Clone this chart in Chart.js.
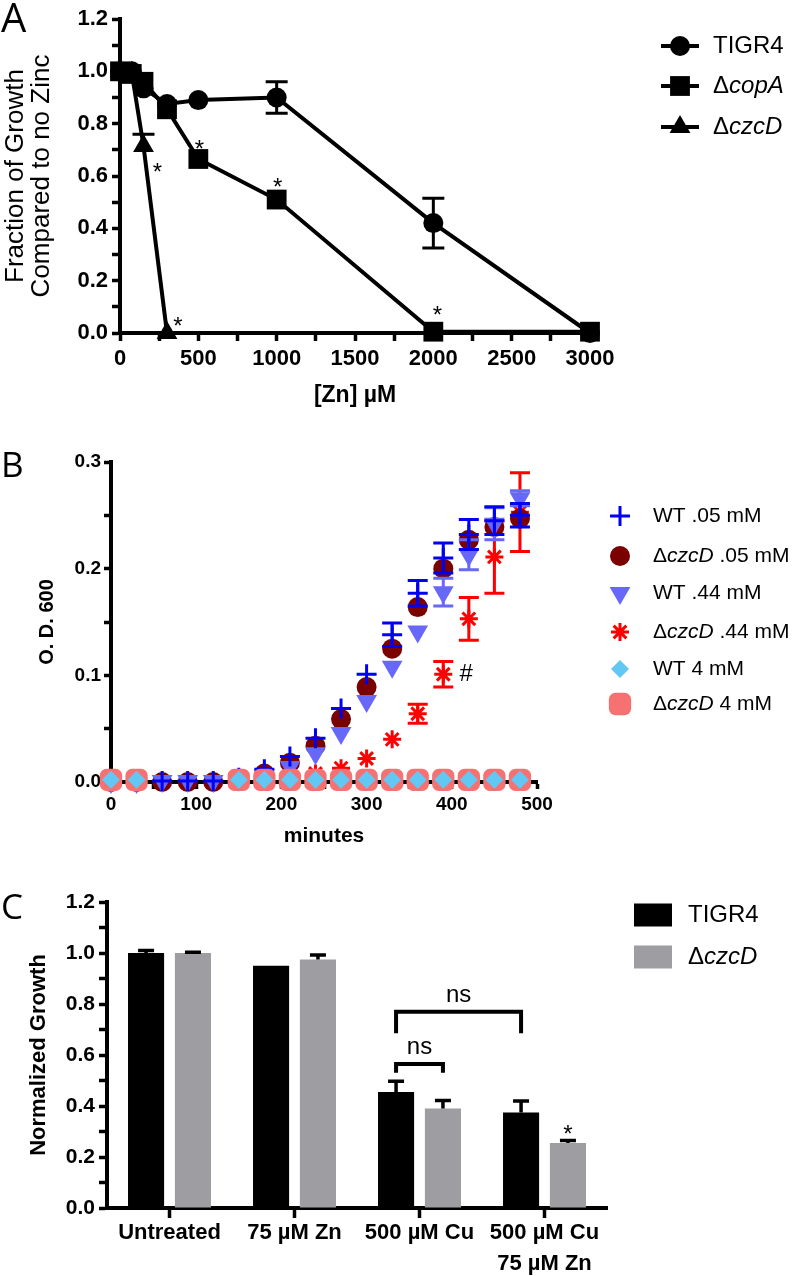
<!DOCTYPE html>
<html>
<head>
<meta charset="utf-8">
<title>Zinc / copper sensitivity</title>
<script src="https://cdn.jsdelivr.net/npm/chart.js@4.4.1/dist/chart.umd.min.js"></script>
<style>
  html, body { margin: 0; padding: 0; background: #fff; }
  body { position: relative; width: 800px; height: 1276px; overflow: hidden; }
  canvas { position: absolute; left: 0; }
</style>
</head>
<body>
<canvas id="panelA" width="800" height="410" style="top:0px"></canvas>
<canvas id="panelB" width="800" height="430" style="top:420px"></canvas>
<canvas id="panelC" width="800" height="426" style="top:850px"></canvas>
<script>
// ─── Panel A: fraction of growth vs [Zn] ───────────────────────────────
const zincTigr4   = [0, 75, 150, 300, 500, 1000, 2000, 3000];
const growthTigr4 = [1.0, 1.0, 0.935, 0.875, 0.89, 0.90, 0.42, 0.0];
const errTigr4    = [0, 0, 0, 0, 0, 0.06, 0.095, 0];
const zincCopA    = [0, 75, 150, 300, 500, 1000, 2000, 3000];
const growthCopA  = [1.0, 0.99, 0.96, 0.855, 0.665, 0.51, 0.005, 0.005];
const zincCzcD    = [0, 75, 150, 300];
const growthCzcD  = [1.0, 0.995, 0.715, 0.0];
const errCzcD     = [0, 0, 0.045, 0];
// asterisks: [dataset, point index, dx px, dy px]
const starsA = [[2, 2, 14, 20], [2, 3, 11, -13], [1, 4, 1, -16], [1, 5, 1, -18], [1, 6, 4, -23]];

// ─── Panel B: growth curves (O.D. 600) ─────────────────────────────────
const minutes   = [0, 30, 60, 90, 120, 150, 180, 210, 240, 270, 300, 330, 360, 390, 420, 450, 480];
const odWT005   = [0.001, 0.001, 0.001, 0.001, 0.001, 0.004, 0.012, 0.024, 0.041, 0.069, 0.101, 0.138, 0.177, 0.21, 0.232, 0.245, 0.25];
const errWT005  = [0, 0, 0, 0, 0, 0, 0, 0, 0, 0, 0, 0.011, 0.012, 0.014, 0.014, 0.013, 0.011];
const odCz005   = [0, 0, 0, 0, 0, 0.003, 0.008, 0.018, 0.034, 0.059, 0.089, 0.125, 0.164, 0.2, 0.227, 0.239, 0.247];
const odWT044   = [0, 0, 0.001, 0.001, 0.001, 0.002, 0.006, 0.014, 0.027, 0.046, 0.076, 0.108, 0.141, 0.178, 0.213, 0.242, 0.266];
const errWT044  = [0, 0, 0, 0, 0, 0, 0, 0, 0, 0, 0, 0, 0, 0.013, 0.014, 0.015, 0.007];
const odCz044   = [0, 0, 0, 0, 0, 0, 0, 0.002, 0.008, 0.013, 0.022, 0.04, 0.064, 0.101, 0.153, 0.211, 0.253];
const errCz044  = [0, 0, 0, 0, 0, 0, 0, 0, 0, 0, 0, 0, 0.009, 0.012, 0.02, 0.034, 0.037];
const odWT4     = [0.002, 0.002, null, null, null, 0.002, 0.002, 0.002, 0.002, 0.002, 0.002, 0.002, 0.002, 0.002, 0.002, 0.002, 0.002];
const odCz4     = [0.002, 0.002, null, null, null, 0.002, 0.002, 0.002, 0.002, 0.002, 0.002, 0.002, 0.002, 0.002, 0.002, 0.002, 0.002];
const hashB     = [3, 13, 23, 0];   // dataset, point, dx, dy

// ─── Panel C: normalized growth bars ───────────────────────────────────
const treatments   = ['Untreated', '75 µM Zn', '500 µM Cu', ['500 µM Cu', '75 µM Zn']];
const growthTigr4C = [1.0, 0.95, 0.455, 0.375];
const errTigr4C    = [0.01, 0, 0.042, 0.045];
const growthCzcDC  = [1.0, 0.975, 0.39, 0.255];
const errCzcDC     = [0.003, 0.017, 0.032, 0.01];
// brackets: [dataset a, index a, dataset b, index b, top value, leg drop]
const bracketsC = [[0, 2, 0, 3, 0.77, 0.085], [0, 2, 1, 2, 0.565, 0.035]];

const FONT = '"Liberation Sans", Arial, Helvetica, sans-serif';
Chart.defaults.font.family = FONT;
Chart.defaults.color = '#000';
const H = Chart.helpers;

function drawParts(ctx, parts, x, y, size) {
  let cx = x;
  for (const [t, italic] of parts) {
    ctx.font = `${italic ? 'italic ' : ''}${size}px ${FONT}`;
    ctx.fillText(t, cx, y);
    cx += ctx.measureText(t).width;
  }
}

function drawLetter(ctx, ch, x, y, size) {
  ctx.save();
  ctx.fillStyle = '#000';
  ctx.textBaseline = 'alphabetic';
  ctx.font = `${size}px "Open Sans", "Noto Sans", sans-serif`;
  ctx.fillText(ch, x, y);
  ctx.restore();
}

function drawStar(ctx, x, cy, size) {
  ctx.font = `${size}px ${FONT}`;
  ctx.textAlign = 'center';
  ctx.textBaseline = 'alphabetic';
  ctx.fillText('*', x, cy + 0.58 * size);
}

function yOf(raw) { return raw == null ? null : (typeof raw === 'object' ? raw.y : raw); }

function drawErrors(chart, index) {
  const ds = chart.data.datasets[index];
  if (!ds.errors) return;
  const meta = chart.getDatasetMeta(index);
  const ys = chart.scales[meta.yAxisID];
  const ctx = chart.ctx;
  ctx.save();
  ctx.strokeStyle = ds.errorColor || '#000';
  ctx.lineWidth = ds.errorWidth || 3;
  meta.data.forEach((el, i) => {
    const e = ds.errors[i];
    const v = yOf(ds.data[i]);
    if (!e || v == null) return;
    const c = ds.capHalf || 10;
    const yTop = ys.getPixelForValue(v + e);
    const yBot = ds.errorsUpOnly ? ys.getPixelForValue(v) : ys.getPixelForValue(v - e);
    ctx.beginPath();
    ctx.moveTo(el.x, yTop); ctx.lineTo(el.x, yBot);
    ctx.moveTo(el.x - c, yTop); ctx.lineTo(el.x + c, yTop);
    if (!ds.errorsUpOnly) { ctx.moveTo(el.x - c, yBot); ctx.lineTo(el.x + c, yBot); }
    ctx.stroke();
  });
  ctx.restore();
}

const errorBars = {
  id: 'errorBars',
  beforeDatasetDraw(chart, args) { if (!chart.data.datasets[args.index].errorsOnTop) drawErrors(chart, args.index); },
  afterDatasetDraw(chart, args) { if (chart.data.datasets[args.index].errorsOnTop) drawErrors(chart, args.index); },
};

function axisBase(tickLen) {
  return {
    border: { display: true, color: '#000', width: 4 },
    grid: { display: true, drawOnChartArea: false, drawTicks: true, tickLength: tickLen, tickWidth: 3.5, tickColor: '#000' },
  };
}

const common = {
  responsive: false,
  animation: false,
  events: [],
  plugins: { legend: { display: false }, tooltip: { enabled: false } },
};

function markerOpts(ds) {
  return {
    pointStyle: ds.pointStyle, radius: ds.pointRadius, rotation: ds.pointRotation || 0,
    borderWidth: ds.pointBorderWidth || 0,
  };
}

// ─── Chart A ────────────────────────────────────────────────────────────
function xy(xs, ys) { return xs.map((x, i) => ({ x, y: ys[i] })); }
const lineA = { borderColor: '#000', borderWidth: 4, tension: 0, clip: false,
  pointBackgroundColor: '#000', pointBorderColor: '#000', pointBorderWidth: 0 };

new Chart(document.getElementById('panelA'), {
  type: 'line',
  data: {
    datasets: [
      { ...lineA, parts: [['TIGR4', false]], data: xy(zincTigr4, growthTigr4), errors: errTigr4, capHalf: 11,
        pointStyle: 'circle', pointRadius: 10 },
      { ...lineA, parts: [['Δ', false], ['copA', true]], data: xy(zincCopA, growthCopA),
        pointStyle: 'rect', pointRadius: 14 },
      { ...lineA, parts: [['Δ', false], ['czcD', true]], data: xy(zincCzcD, growthCzcD), errors: errCzcD, capHalf: 11,
        errorsUpOnly: true, pointStyle: 'triangle', pointRadius: 12 },
    ],
  },
  options: {
    ...common,
    layout: { padding: { left: 0, top: 19, right: 210, bottom: 0 } },
    scales: {
      x: {
        type: 'linear', min: 0, max: 3000, ...axisBase(8),
        afterFit: s => { s.height = 77; },
        ticks: { stepSize: 250, autoSkip: false, maxRotation: 0, padding: 5,
          font: { size: 22, weight: 'bold' }, callback: v => (v % 500 === 0 ? String(v) : '') },
        title: { display: true, text: '[Zn] µM', font: { size: 23, weight: 'bold' }, padding: { top: 0, bottom: 1 } },
      },
      y: {
        min: 0, max: 1.2, ...axisBase(8),
        afterFit: s => { s.width = 120; },
        ticks: { stepSize: 0.1, autoSkip: false, padding: 4, font: { size: 22, weight: 'bold' },
          callback: v => (Math.round(v * 10) % 2 === 0 ? v.toFixed(1) : '') },
        title: { display: true, text: ['Fraction of Growth', 'Compared to no Zinc'],
          font: { size: 26, lineHeight: 1.0 }, padding: { top: 3, bottom: 0 } },
      },
    },
  },
  plugins: [errorBars, {
    id: 'extrasA',
    afterDraw(chart) {
      const ctx = chart.ctx;
      ctx.save();
      ctx.fillStyle = '#000';
      starsA.forEach(([d, i, dx, dy]) => {
        const el = chart.getDatasetMeta(d).data[i];
        drawStar(ctx, el.x + dx, el.y + dy, 24);
      });
      // legend
      const rows = [46, 86, 127];
      chart.data.datasets.forEach((ds, k) => {
        const y = rows[k];
        ctx.strokeStyle = '#000'; ctx.fillStyle = '#000'; ctx.lineWidth = 4;
        ctx.beginPath(); ctx.moveTo(661, y); ctx.lineTo(699, y); ctx.stroke();
        H.drawPoint(ctx, markerOpts(ds), 680, y);
        ctx.textAlign = 'left'; ctx.textBaseline = 'middle';
        drawParts(ctx, ds.parts, 713, y, 24);
      });
      ctx.restore();
      drawLetter(ctx, 'A', 1, 32, 40);
    },
  }],
});

// ─── Chart B ────────────────────────────────────────────────────────────
function pts(vals) { return minutes.map((t, i) => ({ x: t, y: vals[i] })); }
const scatterB = { clip: false, showLine: false };

new Chart(document.getElementById('panelB'), {
  type: 'scatter',
  data: {
    datasets: [
      { ...scatterB, parts: [['WT .05 mM', false]], data: pts(odWT005), errors: errWT005, errorColor: '#0000f2',
        pointStyle: 'cross', pointRadius: 10, pointBorderWidth: 3, pointBorderColor: '#0000f2', pointBackgroundColor: '#0000f2', order: 2 },
      { ...scatterB, parts: [['Δ', false], ['czcD', true], [' .05 mM', false]], data: pts(odCz005),
        pointStyle: 'circle', pointRadius: 10, pointBorderWidth: 0, pointBackgroundColor: '#7b0000', pointBorderColor: '#7b0000', order: 4 },
      { ...scatterB, parts: [['WT .44 mM', false]], data: pts(odWT044), errors: errWT044, errorColor: '#6868f8',
        pointStyle: 'triangle', pointRotation: 180, pointRadius: 12, pointBorderWidth: 0, pointBackgroundColor: '#6868f8', pointBorderColor: '#6868f8', order: 3 },
      { ...scatterB, parts: [['Δ', false], ['czcD', true], [' .44 mM', false]], data: pts(odCz044), errors: errCz044, errorColor: '#ff0000',
        pointStyle: 'star', pointRadius: 9, pointBorderWidth: 3, pointBorderColor: '#ff0000', pointBackgroundColor: '#ff0000', order: 5 },
      { ...scatterB, parts: [['WT 4 mM', false]], data: pts(odWT4),
        pointStyle: 'rectRot', pointRadius: 9, pointBorderWidth: 0, pointBackgroundColor: '#63c7f4', pointBorderColor: '#63c7f4', order: 0 },
      { ...scatterB, parts: [['Δ', false], ['czcD', true], [' 4 mM', false]], data: pts(odCz4),
        pointStyle: 'rectRounded', pointRadius: 13, pointBorderWidth: 0, pointBackgroundColor: '#f67272', pointBorderColor: '#f67272', order: 1 },
    ],
  },
  options: {
    ...common,
    layout: { padding: { left: 0, top: 42, right: 263, bottom: 0 } },
    scales: {
      x: {
        type: 'linear', min: 0, max: 500, ...axisBase(7),
        afterFit: s => { s.height = 68; },
        ticks: { stepSize: 50, autoSkip: false, maxRotation: 0, padding: 4,
          font: { size: 19, weight: 'bold' }, callback: v => (v % 100 === 0 ? String(v) : '') },
        title: { display: true, text: 'minutes', font: { size: 21, weight: 'bold' }, padding: { top: 0, bottom: 1 } },
      },
      y: {
        min: 0, max: 0.3, ...axisBase(7),
        afterFit: s => { s.width = 111; },
        ticks: { stepSize: 0.05, autoSkip: false, padding: 3, font: { size: 19, weight: 'bold' },
          callback: v => (Math.round(v * 20) % 2 === 0 ? v.toFixed(1) : '') },
        title: { display: true, text: 'O. D. 600', font: { size: 20, weight: 'bold' }, padding: { top: 35, bottom: 0 } },
      },
    },
  },
  plugins: [errorBars, {
    id: 'extrasB',
    afterDraw(chart) {
      const ctx = chart.ctx;
      ctx.save();
      const [d, i, dx, dy] = hashB;
      const el = chart.getDatasetMeta(d).data[i];
      ctx.fillStyle = '#000';
      ctx.font = `24px ${FONT}`;
      ctx.textAlign = 'center'; ctx.textBaseline = 'middle';
      ctx.fillText('#', el.x + dx, el.y + dy);
      // legend
      const rows = [96, 136, 173, 212, 249, 284];
      chart.data.datasets.forEach((ds, k) => {
        const y = rows[k];
        ctx.fillStyle = ds.pointBackgroundColor;
        ctx.strokeStyle = ds.pointBorderColor;
        ctx.lineWidth = ds.pointBorderWidth || 0;
        H.drawPoint(ctx, markerOpts(ds), 620, y);
        ctx.fillStyle = '#000';
        ctx.textAlign = 'left'; ctx.textBaseline = 'middle';
        drawParts(ctx, ds.parts, 653, y, 21);
      });
      ctx.restore();
      drawLetter(ctx, 'B', 1, 57, 35);
    },
  }],
});

// ─── Chart C ────────────────────────────────────────────────────────────
const barC = { categoryPercentage: 0.75, barPercentage: 0.77, borderWidth: 0,
  errorsUpOnly: true, errorsOnTop: true, capHalf: 8, errorColor: '#000', errorWidth: 3.5 };

new Chart(document.getElementById('panelC'), {
  type: 'bar',
  data: {
    labels: treatments,
    datasets: [
      { ...barC, parts: [['TIGR4', false]], data: growthTigr4C, errors: errTigr4C, backgroundColor: '#000000' },
      { ...barC, parts: [['Δ', false], ['czcD', true]], data: growthCzcDC, errors: errCzcDC, backgroundColor: '#9e9ea2' },
    ],
  },
  options: {
    ...common,
    layout: { padding: { left: 0, top: 52, right: 193, bottom: 0 } },
    scales: {
      x: {
        ...axisBase(10),
        grid: { ...axisBase(10).grid, offset: false },
        afterFit: s => { s.height = 68; },
        ticks: { autoSkip: false, maxRotation: 0, padding: 0,
          font: { size: 22, weight: 'bold', lineHeight: 1.4 } },
      },
      y: {
        min: 0, max: 1.2, ...axisBase(8),
        afterFit: s => { s.width = 107; },
        ticks: { stepSize: 0.1, autoSkip: false, padding: 4, font: { size: 21, weight: 'bold' },
          callback: v => (Math.round(v * 10) % 2 === 0 ? v.toFixed(1) : '') },
        title: { display: true, text: 'Normalized Growth', font: { size: 22, weight: 'bold' }, padding: { top: 26, bottom: 0 } },
      },
    },
  },
  plugins: [errorBars, {
    id: 'extrasC',
    afterDraw(chart) {
      const ctx = chart.ctx;
      const ys = chart.scales.y;
      ctx.save();
      ctx.strokeStyle = '#000'; ctx.fillStyle = '#000'; ctx.lineWidth = 4;
      bracketsC.forEach(([da, ia, db, ib, top, drop]) => {
        const xa = chart.getDatasetMeta(da).data[ia].x;
        const xb = chart.getDatasetMeta(db).data[ib].x;
        const yt = ys.getPixelForValue(top);
        const yb = ys.getPixelForValue(top - drop);
        ctx.beginPath();
        ctx.moveTo(xa, yb); ctx.lineTo(xa, yt); ctx.lineTo(xb, yt); ctx.lineTo(xb, yb);
        ctx.stroke();
        ctx.font = `24px ${FONT}`;
        ctx.textAlign = 'center'; ctx.textBaseline = 'alphabetic';
        ctx.fillText('ns', (xa + xb) / 2, yt - 10);
      });
      // significance star above last ΔczcD bar
      const last = chart.getDatasetMeta(1).data[3];
      const topErr = ys.getPixelForValue(growthCzcDC[3] + errCzcDC[3]);
      drawStar(ctx, last.x, topErr - 12, 24);
      // legend
      const rows = [65, 107];
      chart.data.datasets.forEach((ds, k) => {
        const y = rows[k];
        ctx.fillStyle = ds.backgroundColor;
        ctx.fillRect(634, y - 11.5, 38, 23);
        ctx.fillStyle = '#000';
        ctx.textAlign = 'left'; ctx.textBaseline = 'middle';
        drawParts(ctx, ds.parts, 688, y, 24);
      });
      ctx.restore();
      drawLetter(ctx, 'C', 1, 69, 35);
    },
  }],
});
</script>
</body>
</html>
